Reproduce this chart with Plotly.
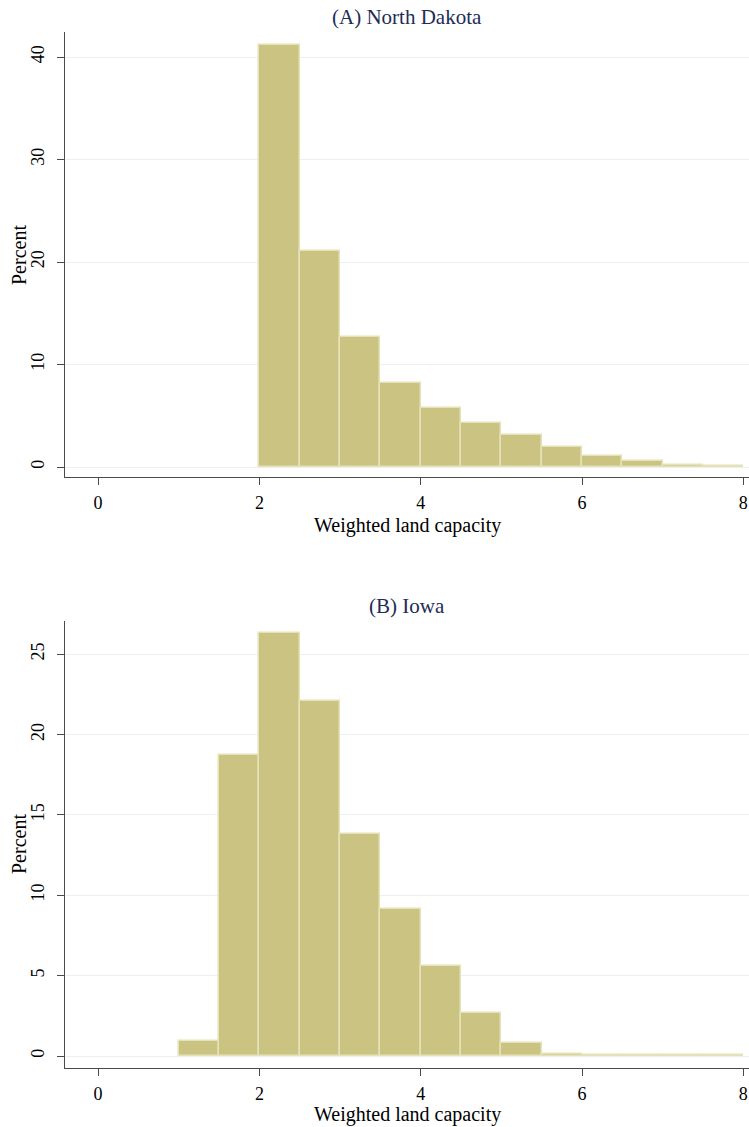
import plotly.graph_objects as go

# ---- data ----
bin_width = 0.5
nd_left_edges = [2.0, 2.5, 3.0, 3.5, 4.0, 4.5, 5.0, 5.5, 6.0, 6.5, 7.0, 7.5]
nd_percent = [41.2, 21.1, 12.7, 8.2, 5.8, 4.3, 3.1, 2.0, 1.05, 0.6, 0.18, 0.06]

ia_left_edges = [1.0, 1.5, 2.0, 2.5, 3.0, 3.5, 4.0, 4.5, 5.0, 5.5, 6.0, 6.5, 7.0, 7.5]
ia_percent = [0.93, 18.7, 26.3, 22.1, 13.8, 9.15, 5.6, 2.68, 0.8, 0.15, 0.08, 0.06, 0.05, 0.04]

x_ticks = [0, 2, 4, 6, 8]
nd_y_ticks = [0, 10, 20, 30, 40]
ia_y_ticks = [0, 5, 10, 15, 20, 25]

titles = ["(A) North Dakota", "(B) Iowa"]
x_title = "Weighted land capacity"
y_title = "Percent"

# ---- style ----
W, H = 749, 1127
FILL = "#cbc382"
EDGE = "#e6e2b8"
GRID = "#eaf0f2"
AXIS = "#4a4a4a"
TITLE_COLOR = "#1e2d55"
FONT = "Liberation Serif, Times New Roman, serif"
TICK_SIZE = 18
AXTITLE_SIZE = 20
PANEL_SIZE = 21

fig = go.Figure()

def centers(edges):
    return [e + bin_width / 2 for e in edges]

fig.add_trace(go.Bar(x=centers(nd_left_edges), y=nd_percent, width=bin_width,
                     marker=dict(color=FILL, line=dict(color=EDGE, width=1.5)),
                     xaxis="x", yaxis="y", showlegend=False, hoverinfo="skip"))
fig.add_trace(go.Bar(x=centers(ia_left_edges), y=ia_percent, width=bin_width,
                     marker=dict(color=FILL, line=dict(color=EDGE, width=1.5)),
                     xaxis="x2", yaxis="y2", showlegend=False, hoverinfo="skip"))

x_dom = [65 / W, 1.0]
top_dom = [1 - 477 / H, 1 - 32 / H]
bot_dom = [1 - 1068 / H, 1 - 621 / H]

xaxis_common = dict(
    range=[-0.41, 8.07], tickvals=x_ticks, ticks="outside", ticklen=7, tickwidth=1,
    tickcolor=AXIS, showline=True, linecolor=AXIS, linewidth=1, showgrid=False,
    zeroline=False, tickfont=dict(family=FONT, size=TICK_SIZE, color="black"),
    ticklabelstandoff=2, automargin=False, domain=x_dom,
)
yaxis_common = dict(
    ticks="outside", ticklen=7, tickwidth=1, tickcolor=AXIS, showline=True,
    linecolor=AXIS, linewidth=1, showgrid=True, gridcolor=GRID, gridwidth=1.2,
    zeroline=False, tickangle=-90, tickfont=dict(family=FONT, size=TICK_SIZE, color="black"),
    ticklabelstandoff=6, automargin=False,
)

# range below zero creates the gap between bars and the x axis line
nd_range = [-(477 - 467) / 10.25, (467 - 32) / 10.25]
ia_range = [-(1068 - 1056) / 16.07, (1056 - 621) / 16.07]

fig.update_layout(
    width=W, height=H, margin=dict(l=0, r=0, t=0, b=0),
    paper_bgcolor="white", plot_bgcolor="white", bargap=0,
    font=dict(family=FONT),
    xaxis=dict(xaxis_common, anchor="y"),
    yaxis=dict(yaxis_common, domain=top_dom, range=nd_range, tickvals=nd_y_ticks,
               anchor="x"),
    xaxis2=dict(xaxis_common, anchor="y2"),
    yaxis2=dict(yaxis_common, domain=bot_dom, range=ia_range, tickvals=ia_y_ticks,
                anchor="x2"),
)

cx = (65 + 749) / 2 / W
def ann(text, x, y, size, color, angle=0):
    fig.add_annotation(text=text, x=x, y=1 - y / H, xref="paper", yref="paper",
                       showarrow=False, textangle=angle,
                       font=dict(family=FONT, size=size, color=color),
                       xanchor="center", yanchor="middle")

ann(titles[0], cx, 17, PANEL_SIZE, TITLE_COLOR)
ann(titles[1], cx, 606, PANEL_SIZE, TITLE_COLOR)
ann(x_title, cx, 525, AXTITLE_SIZE, "black")
ann(x_title, cx, 1114, AXTITLE_SIZE, "black")
ann(y_title, 19 / W, 255, AXTITLE_SIZE, "black", -90)
ann(y_title, 19 / W, 844, AXTITLE_SIZE, "black", -90)

fig.write_html("out.html")
